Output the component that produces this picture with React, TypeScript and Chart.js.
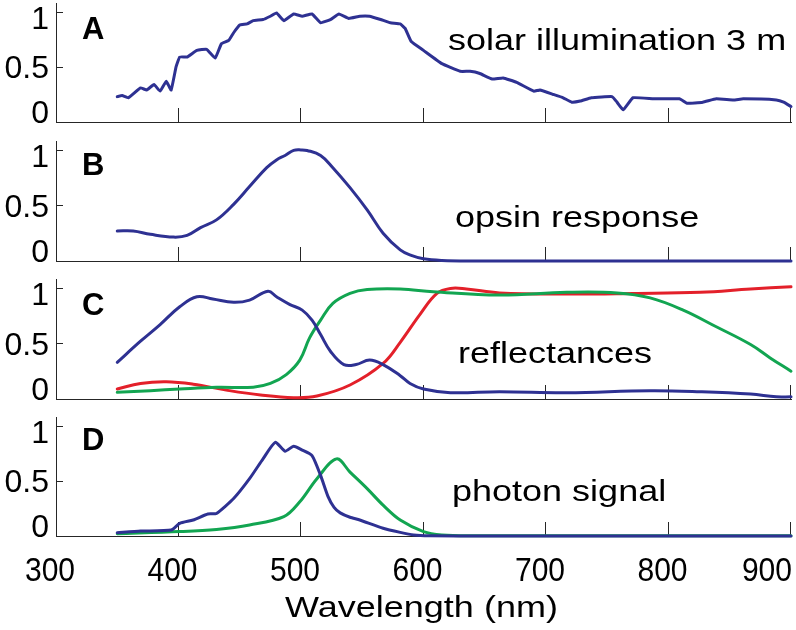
import React, { useEffect, useRef } from 'react';
import { Chart, registerables } from 'chart.js';

Chart.register(...registerables);

const W = 796;
const H = 630;
const FONT = "'Liberation Sans', Arial, Helvetica, sans-serif";
const BLUE = '#2e3192';
const GREEN = '#12a551';
const RED = '#e3202a';
const AXIS = '#262626';

// ---------- texts & ticks ----------
const xTickValues = [300, 400, 500, 600, 700, 800, 900];
const yTickValues = [0, 0.5, 1];
const yTickLabels = ['0', '0.5', '1'];
const xAxisTitle = 'Wavelength (nm)';
const panelLetters = ['A', 'B', 'C', 'D'];
const panelNotes = ['solar illumination 3 m', 'opsin response', 'reflectances', 'photon signal'];

// ---------- A: solar illumination at 3 m ----------
const solarNm = [350, 354, 359, 369, 374, 380, 385, 390, 394, 398, 401, 407, 415, 423, 430, 435, 441, 445, 450, 456, 461, 469, 475, 480, 486, 494, 501, 509, 516, 524, 531, 539, 548, 556, 565, 573, 581, 585, 590, 600, 615, 630, 638, 646, 656, 665, 676, 690, 695, 706, 714, 721, 728, 737, 754, 758, 763, 771, 788, 809, 815, 828, 839, 853, 861, 888, 894, 900];
const solarVal = [0.23, 0.24, 0.22, 0.31, 0.29, 0.34, 0.28, 0.37, 0.29, 0.5, 0.59, 0.59, 0.65, 0.66, 0.58, 0.71, 0.74, 0.81, 0.88, 0.89, 0.92, 0.93, 0.96, 0.99, 0.92, 0.98, 0.96, 0.98, 0.9, 0.93, 0.98, 0.94, 0.96, 0.96, 0.93, 0.9, 0.89, 0.85, 0.73, 0.65, 0.53, 0.46, 0.46, 0.44, 0.39, 0.4, 0.36, 0.28, 0.29, 0.25, 0.22, 0.18, 0.19, 0.22, 0.23, 0.18, 0.11, 0.22, 0.21, 0.21, 0.17, 0.18, 0.21, 0.2, 0.21, 0.2, 0.18, 0.14];

// ---------- B: opsin response ----------
const opsinNm = [350, 363, 377, 396, 407, 418, 431, 445, 458, 472, 480, 487, 494, 500, 505, 516, 526, 540, 554, 567, 581, 590, 600, 615, 640, 700, 800, 900];
const opsinVal = [0.27, 0.27, 0.24, 0.215, 0.23, 0.3, 0.37, 0.51, 0.67, 0.84, 0.91, 0.95, 0.995, 1.0, 0.995, 0.95, 0.84, 0.66, 0.46, 0.25, 0.1, 0.05, 0.02, 0.005, 0, 0, 0, 0];

// ---------- C: reflectances ----------
const reflBlueNm = [350, 369, 385, 401, 415, 428, 445, 458, 473, 480, 491, 501, 509, 516, 524, 535, 545, 556, 567, 581, 589, 600, 622, 662, 717, 785, 826, 867, 888, 900];
const reflBlueVal = [0.33, 0.52, 0.67, 0.83, 0.92, 0.9, 0.87, 0.89, 0.97, 0.92, 0.85, 0.8, 0.71, 0.58, 0.43, 0.31, 0.31, 0.35, 0.31, 0.21, 0.14, 0.09, 0.057, 0.066, 0.057, 0.075, 0.066, 0.045, 0.02, 0.02];
const reflGreenNm = [350, 377, 401, 431, 461, 475, 488, 499, 507, 516, 526, 540, 554, 581, 608, 662, 717, 758, 785, 812, 839, 867, 883, 900];
const reflGreenVal = [0.06, 0.075, 0.09, 0.105, 0.106, 0.14, 0.22, 0.35, 0.55, 0.71, 0.86, 0.95, 0.985, 0.99, 0.965, 0.935, 0.96, 0.955, 0.91, 0.8, 0.65, 0.49, 0.37, 0.25];
const reflRedNm = [350, 369, 390, 412, 439, 467, 494, 513, 540, 567, 581, 597, 611, 622, 635, 662, 717, 771, 826, 867, 900];
const reflRedVal = [0.09, 0.14, 0.155, 0.133, 0.08, 0.036, 0.012, 0.027, 0.126, 0.32, 0.51, 0.76, 0.95, 0.995, 0.99, 0.955, 0.945, 0.95, 0.96, 0.99, 1.01];

// ---------- D: photon signal ----------
const signalBlueNm = [350, 369, 394, 401, 412, 424, 431, 445, 458, 469, 479, 487, 494, 501, 509, 516, 522, 527, 532, 540, 548, 567, 581, 592, 605, 650, 900];
const signalBlueVal = [0.03, 0.045, 0.054, 0.115, 0.145, 0.2, 0.205, 0.34, 0.52, 0.7, 0.85, 0.77, 0.815, 0.78, 0.73, 0.55, 0.36, 0.26, 0.21, 0.17, 0.145, 0.07, 0.033, 0.01, 0.003, 0, 0];
const signalGreenNm = [350, 401, 431, 458, 486, 499, 513, 529, 540, 554, 567, 581, 600, 615, 640, 900];
const signalGreenVal = [0.02, 0.04, 0.06, 0.1, 0.175, 0.31, 0.52, 0.7, 0.58, 0.43, 0.28, 0.145, 0.04, 0.01, 0.003, 0.003];

type Series = { nm: number[]; val: number[]; color: string; tension: number };

const panelSeries: Series[][] = [
  [{ nm: solarNm, val: solarVal, color: BLUE, tension: 0.1 }],
  [{ nm: opsinNm, val: opsinVal, color: BLUE, tension: 0.4 }],
  [
    { nm: reflBlueNm, val: reflBlueVal, color: BLUE, tension: 0.4 },
    { nm: reflGreenNm, val: reflGreenVal, color: GREEN, tension: 0.4 },
    { nm: reflRedNm, val: reflRedVal, color: RED, tension: 0.4 },
  ],
  [
    { nm: signalBlueNm, val: signalBlueVal, color: BLUE, tension: 0.2 },
    { nm: signalGreenNm, val: signalGreenVal, color: GREEN, tension: 0.35 },
  ],
];

// layout (pixel placement of each panel)
const panelLayout = [
  { top: 3, bottom: 122, letterBase: 39, noteX: 448, noteBase: 50 },
  { top: 141, bottom: 261, letterBase: 175, noteX: 455, noteBase: 227 },
  { top: 279, bottom: 399, letterBase: 315, noteX: 458, noteBase: 363 },
  { top: 417, bottom: 536, letterBase: 450, noteX: 452, noteBase: 501 },
];

function drawText(
  ctx: CanvasRenderingContext2D,
  text: string,
  x: number,
  y: number,
  size: number,
  bold: boolean,
  sx: number,
  align: CanvasTextAlign
) {
  ctx.save();
  ctx.font = `${bold ? 'bold ' : ''}${size}px ${FONT}`;
  ctx.fillStyle = '#000';
  ctx.textBaseline = 'alphabetic';
  ctx.textAlign = align;
  ctx.translate(x, y);
  ctx.scale(sx, 1);
  ctx.fillText(text, 0, 0);
  ctx.restore();
}

function makeDecor(idx: number, isLast: boolean) {
  const lay = panelLayout[idx];
  return {
    id: 'panelDecor' + idx,
    beforeDatasetsDraw(chart: any) {
      const ctx: CanvasRenderingContext2D = chart.ctx;
      const xs = chart.scales.x;
      const ys = chart.scales.y;
      const { left, bottom } = chart.chartArea;
      ctx.save();
      ctx.strokeStyle = AXIS;
      ctx.lineWidth = 1;
      ctx.beginPath();
      for (const v of xTickValues) {
        if (v === 300) continue;
        const px = Math.round(xs.getPixelForValue(v)) - 0.5;
        ctx.moveTo(px, bottom);
        ctx.lineTo(px, bottom - 14);
      }
      for (const v of yTickValues) {
        if (v === 0) continue;
        const py = Math.round(ys.getPixelForValue(v)) + 0.5;
        ctx.moveTo(left, py);
        ctx.lineTo(left + 7, py);
      }
      ctx.stroke();
      ctx.restore();
    },
    afterDraw(chart: any) {
      const ctx: CanvasRenderingContext2D = chart.ctx;
      const xs = chart.scales.x;
      const ys = chart.scales.y;
      yTickValues.forEach((v, i) => {
        const py = ys.getPixelForValue(v);
        const shift = v === 0 ? 0.5 : v === 1 ? 17 : 11.5;
        drawText(ctx, yTickLabels[i], 49, py + shift, 32, false, 1, 'right');
      });
      drawText(ctx, panelLetters[idx], 82, lay.letterBase, 31, true, 1, 'left');
      drawText(ctx, panelNotes[idx], lay.noteX, lay.noteBase, 30, false, 1.2, 'left');
      if (isLast) {
        ctx.save();
        ctx.font = `33px ${FONT}`;
        for (const v of xTickValues) {
          const label = String(v);
          const w = ctx.measureText(label).width * 0.91;
          let cx = xs.getPixelForValue(v) - 6;
          if (cx + w / 2 > W - 4) cx = W - 4 - w / 2;
          drawText(ctx, label, cx, 581, 33, false, 0.91, 'center');
        }
        ctx.restore();
        const mid = (chart.chartArea.left + chart.chartArea.right) / 2;
        drawText(ctx, xAxisTitle, mid - 2, 617, 30, false, 1.2, 'center');
      }
    },
  };
}

function Panel({ idx }: { idx: number }) {
  const ref = useRef<HTMLCanvasElement | null>(null);
  useEffect(() => {
    const canvas = ref.current;
    if (!canvas) return;
    const lay = panelLayout[idx];
    const isLast = idx === panelLayout.length - 1;
    const chart = new Chart(canvas, {
      type: 'line',
      data: {
        datasets: panelSeries[idx].map((s) => ({
          data: s.nm.map((x, i) => ({ x, y: s.val[i] })),
          borderColor: s.color,
          backgroundColor: s.color,
          borderWidth: 3,
          pointRadius: 0,
          fill: false,
          tension: s.tension,
          cubicInterpolationMode: 'default',
          borderJoinStyle: 'round',
          borderCapStyle: 'round',
          clip: 6,
        })) as any,
      },
      options: {
        responsive: false,
        maintainAspectRatio: false,
        animation: false,
        devicePixelRatio: 1,
        events: [],
        layout: { padding: { top: lay.top, bottom: H - lay.bottom, left: 0, right: W - 791 } },
        plugins: { legend: { display: false }, tooltip: { enabled: false }, title: { display: false } },
        scales: {
          x: {
            type: 'linear',
            min: 300,
            max: 900,
            ticks: { display: false },
            grid: { display: false, drawTicks: false },
            border: { display: true, color: AXIS, width: 1 },
            afterFit: (s: any) => {
              s.height = 0;
            },
          },
          y: {
            type: 'linear',
            min: 0,
            max: 1.08,
            ticks: { display: false },
            grid: { display: false, drawTicks: false },
            border: { display: true, color: AXIS, width: 1 },
            afterFit: (s: any) => {
              s.width = 56;
            },
          },
        },
      } as any,
      plugins: [makeDecor(idx, isLast)],
    });
    return () => chart.destroy();
  }, [idx]);
  return (
    <canvas
      ref={ref}
      width={W}
      height={H}
      style={{ position: 'absolute', left: 0, top: 0, width: W, height: H }}
    />
  );
}

export default function App() {
  return (
    <div style={{ position: 'absolute', left: 0, top: 0, width: W, height: H, background: '#fff' }}>
      {panelLayout.map((_, i) => (
        <Panel key={i} idx={i} />
      ))}
    </div>
  );
}
